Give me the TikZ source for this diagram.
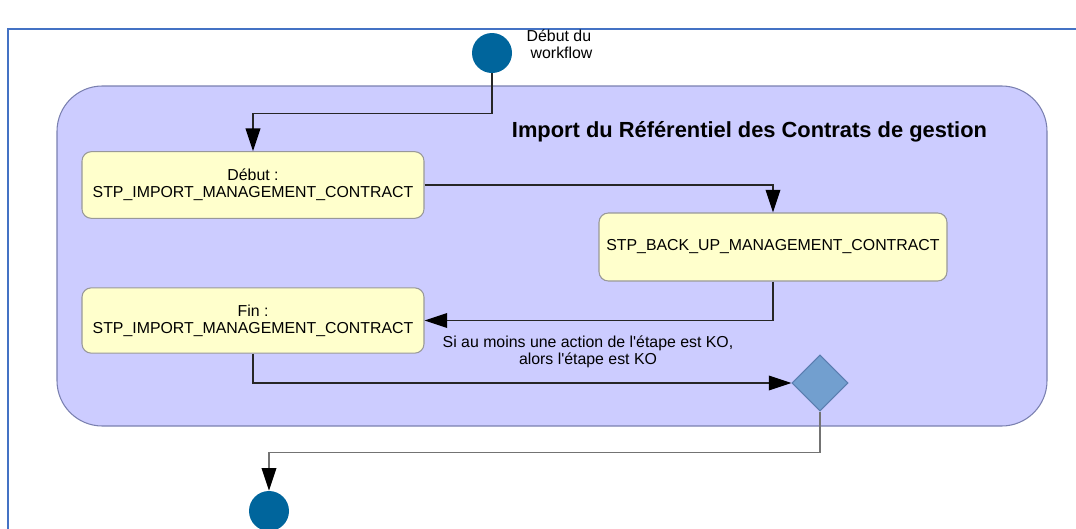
\documentclass[tikz,border=0pt]{standalone}
\usepackage{fontspec}
\setmainfont{Liberation Sans}
\usetikzlibrary{arrows.meta,shapes.geometric}

\definecolor{cadrecol}{HTML}{4472C4}
\definecolor{groupefill}{HTML}{CCCCFF}
\definecolor{groupeline}{HTML}{7A80B0}
\definecolor{etapefill}{HTML}{FFFFCC}
\definecolor{etapeline}{HTML}{999999}
\definecolor{etatfill}{HTML}{00659C}
\definecolor{choixfill}{HTML}{729FCF}
\definecolor{choixline}{HTML}{5A7DB0}

\begin{document}
\begin{tikzpicture}[x=0.75pt,y=-0.75pt,
	every node/.style={font=\fontsize{11.9}{12.75}\selectfont},
	etape/.style={shape=rectangle,rounded corners=7pt,draw=etapeline,fill=etapefill,line width=0.8pt,minimum width=256.5pt,minimum height=50pt,align=center,inner sep=0pt},
	etat/.style={shape=circle,fill=etatfill,minimum size=30pt,inner sep=0pt},
	choix/.style={shape=diamond,draw=choixline,fill=choixfill,line width=0.8pt,minimum size=42pt,inner sep=0pt},
	flux/.style={-{Triangle[width=11pt,length=17pt,color=black]},line width=1pt,draw=black!85}]
	
	\useasboundingbox (0,0) rectangle (1076,529);
	\draw[cadrecol, line width=1pt] (8,600) -- (8,29) -- (1100,29);
	
	% groupe
	\draw[draw=groupeline, fill=groupefill, line width=0.8pt, rounded corners=34pt] (57,86) rectangle (1047,426);
	\node[font=\bfseries\fontsize{16.4}{18}\selectfont] (titre) at (749.5,132) {Import du Référentiel des Contrats de gestion};
	
	\node[etat] (debutwf) at (492,53) {};
	\node[anchor=west,align=left] (lbldebut) at (522,44) {Début du\\\hspace{3pt}workflow};
	\node[etape] (debut) at (253,185) {Début :\\STP\_IMPORT\_MANAGEMENT\_CONTRACT};
	\node[etape,minimum width=261pt,minimum height=51pt] (backup) at (773,247) {STP\_BACK\_UP\_MANAGEMENT\_CONTRACT};
	\node[etape,minimum height=49pt] (fin) at (253,320.5) {Fin :\\STP\_IMPORT\_MANAGEMENT\_CONTRACT};
	\node[choix] (decision) at (820,383) {};
	\node[align=center] (lblko) at (588,352) {Si au moins une action de l\textquotesingle étape est KO,\\alors l\textquotesingle étape est KO};
	\node[etat] (finwf) at (269,511) {};
	
	\draw[flux] (debutwf.south) -- ++(0,40) -| (debut.north);
	\draw[flux] (debut.east) -| (backup.north);
	\draw[flux] (backup.south) |- (fin.east);
	\draw[flux] (fin.south) |- (decision.west);
	\draw[flux,draw=black!55] (decision.south) -- ++(0,41) -| (finwf.north);
	
\end{tikzpicture}
\end{document}
